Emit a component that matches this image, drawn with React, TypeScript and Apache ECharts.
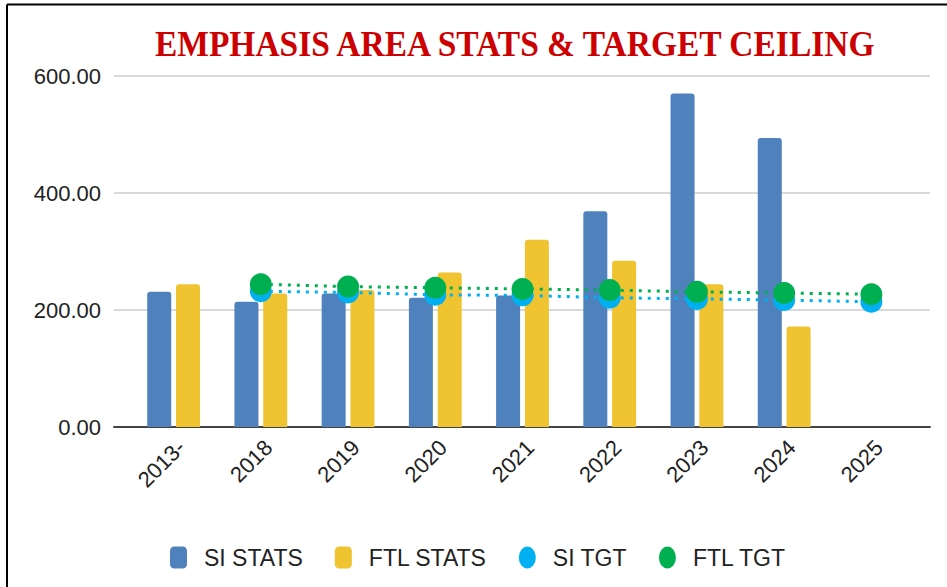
import React, { useEffect, useRef } from "react";
import * as echarts from "echarts";

const categories = ["2013-", "2018", "2019", "2020", "2021", "2022", "2023", "2024", "2025"];
const siStats = [231, 214, 228, 221, 225, 369, 570, 494, null];
const ftlStats = [244, 228, 234, 264, 320, 284, 244, 172, null];
const siTgt = [null, 232, 230, 226, 225, 221, 219, 217, 214];
const ftlTgt = [null, 244, 240, 238, 236, 234, 231, 229, 227];
const yTicks = { min: 0, max: 600, interval: 200 };
const titleText = "EMPHASIS AREA STATS & TARGET CEILING";

const COLORS = {
  si: "#4f81bd",
  ftl: "#f0c331",
  siTgt: "#00b0f0",
  ftlTgt: "#00b050",
};

const ELLIPSE = "path://M0,11A8.5,11,0,1,1,17,11A8.5,11,0,1,1,0,11Z";

export default function App() {
  const ref = useRef<HTMLDivElement>(null);
  useEffect(() => {
    if (!ref.current) return;
    const chart = echarts.init(ref.current, null, { renderer: "svg" });
    const font = "Liberation Sans, Arial, sans-serif";
    chart.setOption({
      animation: false,
      backgroundColor: "#ffffff",
      graphic: [
        { type: "line", shape: { x1: 7, y1: 4.5, x2: 947, y2: 4.5 }, style: { stroke: "#000", lineWidth: 2 }, silent: true },
        { type: "line", shape: { x1: 7, y1: 4.5, x2: 7, y2: 587 }, style: { stroke: "#000", lineWidth: 2 }, silent: true },
        {
          type: "text",
          x: 155,
          y: 44,
          scaleX: 0.93,
          silent: true,
          style: {
            text: titleText,
            x: 0,
            y: 0,
            textAlign: "left",
            textVerticalAlign: "middle",
            fontFamily: "Liberation Serif, Times New Roman, serif",
            fontWeight: "bold",
            fontSize: 36,
            fill: "#cc0000",
          },
        },
      ],
      legend: {
        top: 546,
        left: 170,
        padding: 0,
        itemWidth: 17,
        itemHeight: 22,
        itemGap: 32,
        textStyle: { fontFamily: font, fontSize: 23, color: "#222", padding: [0, 0, 0, 12] },
        data: [
          { name: "SI STATS", icon: "roundRect" },
          { name: "FTL STATS", icon: "roundRect" },
          { name: "SI TGT", icon: ELLIPSE },
          { name: "FTL TGT", icon: ELLIPSE },
        ],
      },
      grid: [
        { left: 114, right: 17, top: 76, bottom: 160 },
        { left: 130, right: 32, top: 76, bottom: 160 },
      ],
      xAxis: [
        {
          gridIndex: 0,
          type: "value",
          min: 0,
          max: 1,
          axisLine: { show: true, lineStyle: { color: "#444", width: 2 } },
          axisTick: { show: false },
          axisLabel: { show: false },
          splitLine: { show: false },
        },
        {
          gridIndex: 1,
          type: "category",
          data: categories,
          axisLine: { show: false },
          axisTick: { show: false },
          axisLabel: {
            rotate: 45,
            margin: 9,
            verticalAlign: "top",
            fontFamily: font,
            fontSize: 22,
            color: "#222",
            interval: 0,
          },
        },
      ],
      yAxis: [
        {
          gridIndex: 0,
          type: "value",
          min: yTicks.min,
          max: yTicks.max,
          interval: yTicks.interval,
          axisLine: { show: false },
          axisTick: { show: false },
          axisLabel: {
            margin: 13,
            fontFamily: font,
            fontSize: 22,
            color: "#222",
            formatter: (v: number) => v.toFixed(2),
          },
          splitLine: { show: true, lineStyle: { color: "#cccccc", width: 1.5 } },
        },
        {
          gridIndex: 1,
          type: "value",
          min: yTicks.min,
          max: yTicks.max,
          interval: yTicks.interval,
          show: false,
          splitLine: { show: false },
        },
      ],
      series: [
        {
          name: "SI STATS",
          type: "bar",
          xAxisIndex: 1,
          yAxisIndex: 1,
          data: siStats,
          barWidth: 24,
          barGap: "20%",
          itemStyle: { color: COLORS.si, borderRadius: [3, 3, 0, 0] },
        },
        {
          name: "FTL STATS",
          type: "bar",
          xAxisIndex: 1,
          yAxisIndex: 1,
          data: ftlStats,
          barWidth: 24,
          barGap: "20%",
          itemStyle: { color: COLORS.ftl, borderRadius: [3, 3, 0, 0] },
        },
        {
          name: "SI TGT",
          type: "line",
          xAxisIndex: 1,
          yAxisIndex: 1,
          data: siTgt,
          symbol: "circle",
          symbolSize: 22,
          z: 3,
          itemStyle: { color: COLORS.siTgt },
          lineStyle: { color: COLORS.siTgt, width: 3, type: [3, 6] },
        },
        {
          name: "FTL TGT",
          type: "line",
          xAxisIndex: 1,
          yAxisIndex: 1,
          data: ftlTgt,
          symbol: "circle",
          symbolSize: 22,
          z: 4,
          itemStyle: { color: COLORS.ftlTgt },
          lineStyle: { color: COLORS.ftlTgt, width: 3, type: [3, 6] },
        },
      ],
    });
    return () => chart.dispose();
  }, []);
  return (
    <div
      ref={ref}
      style={{ position: "absolute", left: 0, top: 0, width: 947, height: 587 }}
    />
  );
}
